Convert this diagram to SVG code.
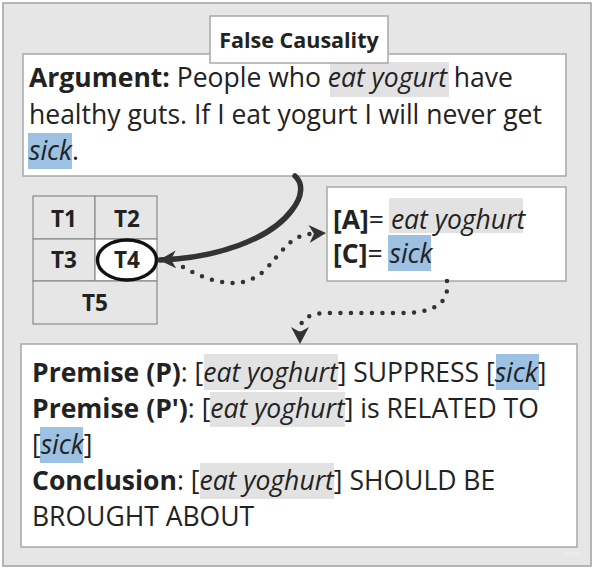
<svg xmlns="http://www.w3.org/2000/svg" width="595" height="570" viewBox="0 0 595 570">
<style>
.box{fill:#fff;stroke:#a8a8a8;stroke-width:1.5}
.cell{fill:#e6e6e6;stroke:#8a8a8a;stroke-width:1.2}
.t{font-family:"Open Sans","DejaVu Sans",sans-serif;font-size:26.5px;fill:#222}
.b{font-weight:bold}
.i{font-style:italic}
.tl{font-family:"Open Sans","DejaVu Sans",sans-serif;font-size:22.5px;font-weight:bold;fill:#222;text-anchor:middle}
.hg{fill:#e2e2e2}
.hb{fill:#9cc1e3}
.dot{fill:none;stroke:#333;stroke-width:4.5;stroke-linecap:round;stroke-dasharray:0 10.5}
.solid{fill:none;stroke:#333;stroke-width:5.5;stroke-linecap:round}
</style>
<defs>
<marker id="ah" markerUnits="userSpaceOnUse" markerWidth="20" markerHeight="20" refX="16" refY="9" orient="auto">
<path d="M0,0 L17,9 L0,18 L5,9 Z" fill="#333"/>
</marker>
</defs>
<rect x="3" y="3" width="588" height="563" fill="#e6e6e6" stroke="#a0a0a0" stroke-width="1.5"/>

<g id="argument">
<rect class="box" x="23" y="54" width="543" height="122"/>
<rect class="hg" x="330" y="62" width="119" height="35"/>
<rect class="hb" x="28" y="133" width="44" height="36"/>
<text class="t" x="29" y="87"><tspan class="b">Argument:</tspan> People who <tspan class="i">eat yogurt</tspan> have</text>
<text class="t" x="29" y="124">healthy guts. If I eat yogurt I will never get</text>
<text class="t" x="29" y="160"><tspan class="i">sick</tspan>.</text>
</g>

<g id="title">
<rect class="box" x="210" y="16" width="178" height="47"/>
<text class="tl" x="299" y="48" style="font-size:21.5px">False Causality</text>
</g>

<g id="grid">
<rect class="cell" x="33" y="196" width="62" height="43"/>
<rect class="cell" x="95" y="196" width="62" height="43"/>
<rect class="cell" x="33" y="239" width="62" height="42"/>
<rect class="cell" x="95" y="239" width="62" height="42" style="fill:#fff"/>
<rect class="cell" x="33" y="281" width="124" height="43"/>
<text class="tl" x="64" y="227">T1</text>
<text class="tl" x="127" y="227">T2</text>
<text class="tl" x="64" y="268">T3</text>
<text class="tl" x="127" y="268">T4</text>
<text class="tl" x="95" y="311">T5</text>
<ellipse cx="127" cy="260" rx="29.5" ry="20" fill="none" stroke="#111" stroke-width="3.5"/>
</g>

<g id="vars">
<rect class="box" x="327" y="187" width="239" height="94"/>
<rect class="hg" x="389" y="198" width="134" height="35"/>
<rect class="hb" x="388" y="235" width="43" height="36"/>
<text class="t" x="333" y="229"><tspan class="b">[A]</tspan>= <tspan class="i">eat yoghurt</tspan></text>
<text class="t" x="333" y="263"><tspan class="b">[C]</tspan>= <tspan class="i">sick</tspan></text>
</g>

<g id="premises">
<rect class="box" x="21" y="344" width="556" height="203"/>
<rect class="hg" x="204" y="354" width="134" height="36"/>
<rect class="hb" x="496" y="354" width="43" height="36"/>
<rect class="hg" x="210" y="392" width="135" height="35"/>
<rect class="hb" x="40" y="427" width="43" height="36"/>
<rect class="hg" x="200" y="463" width="134" height="36"/>
<text class="t" x="32" y="382"><tspan class="b">Premise (P)</tspan>: [<tspan class="i">eat yoghurt</tspan>] SUPPRESS [<tspan class="i">sick</tspan>]</text>
<text class="t" x="32" y="418"><tspan class="b">Premise (P')</tspan>: [<tspan class="i">eat yoghurt</tspan>] is RELATED TO</text>
<text class="t" x="32" y="454">[<tspan class="i">sick</tspan>]</text>
<text class="t" x="32" y="490"><tspan class="b">Conclusion</tspan>: [<tspan class="i">eat yoghurt</tspan>] SHOULD BE</text>
<text class="t" x="32" y="526">BROUGHT ABOUT</text>
</g>

<g id="connectors">
<path class="solid" d="M295,176 C303,183 303,196 292,210 C270,240 215,258 160,260" marker-end="url(#ah)"/>
<path class="dot" d="M183,267 C215,285 245,290 265,270 C282,252 290,236 310,234 L325,233" marker-end="url(#ah)"/>
<path class="dot" d="M447,281 C450,305 432,313 400,313 L330,313 C310,313 300,318 300,331 L300,343" marker-end="url(#ah)"/>
</g>

<text x="572" y="556" font-family="Open Sans, sans-serif" font-size="7" fill="#f2f2f2" text-anchor="middle">miro</text>
</svg>
